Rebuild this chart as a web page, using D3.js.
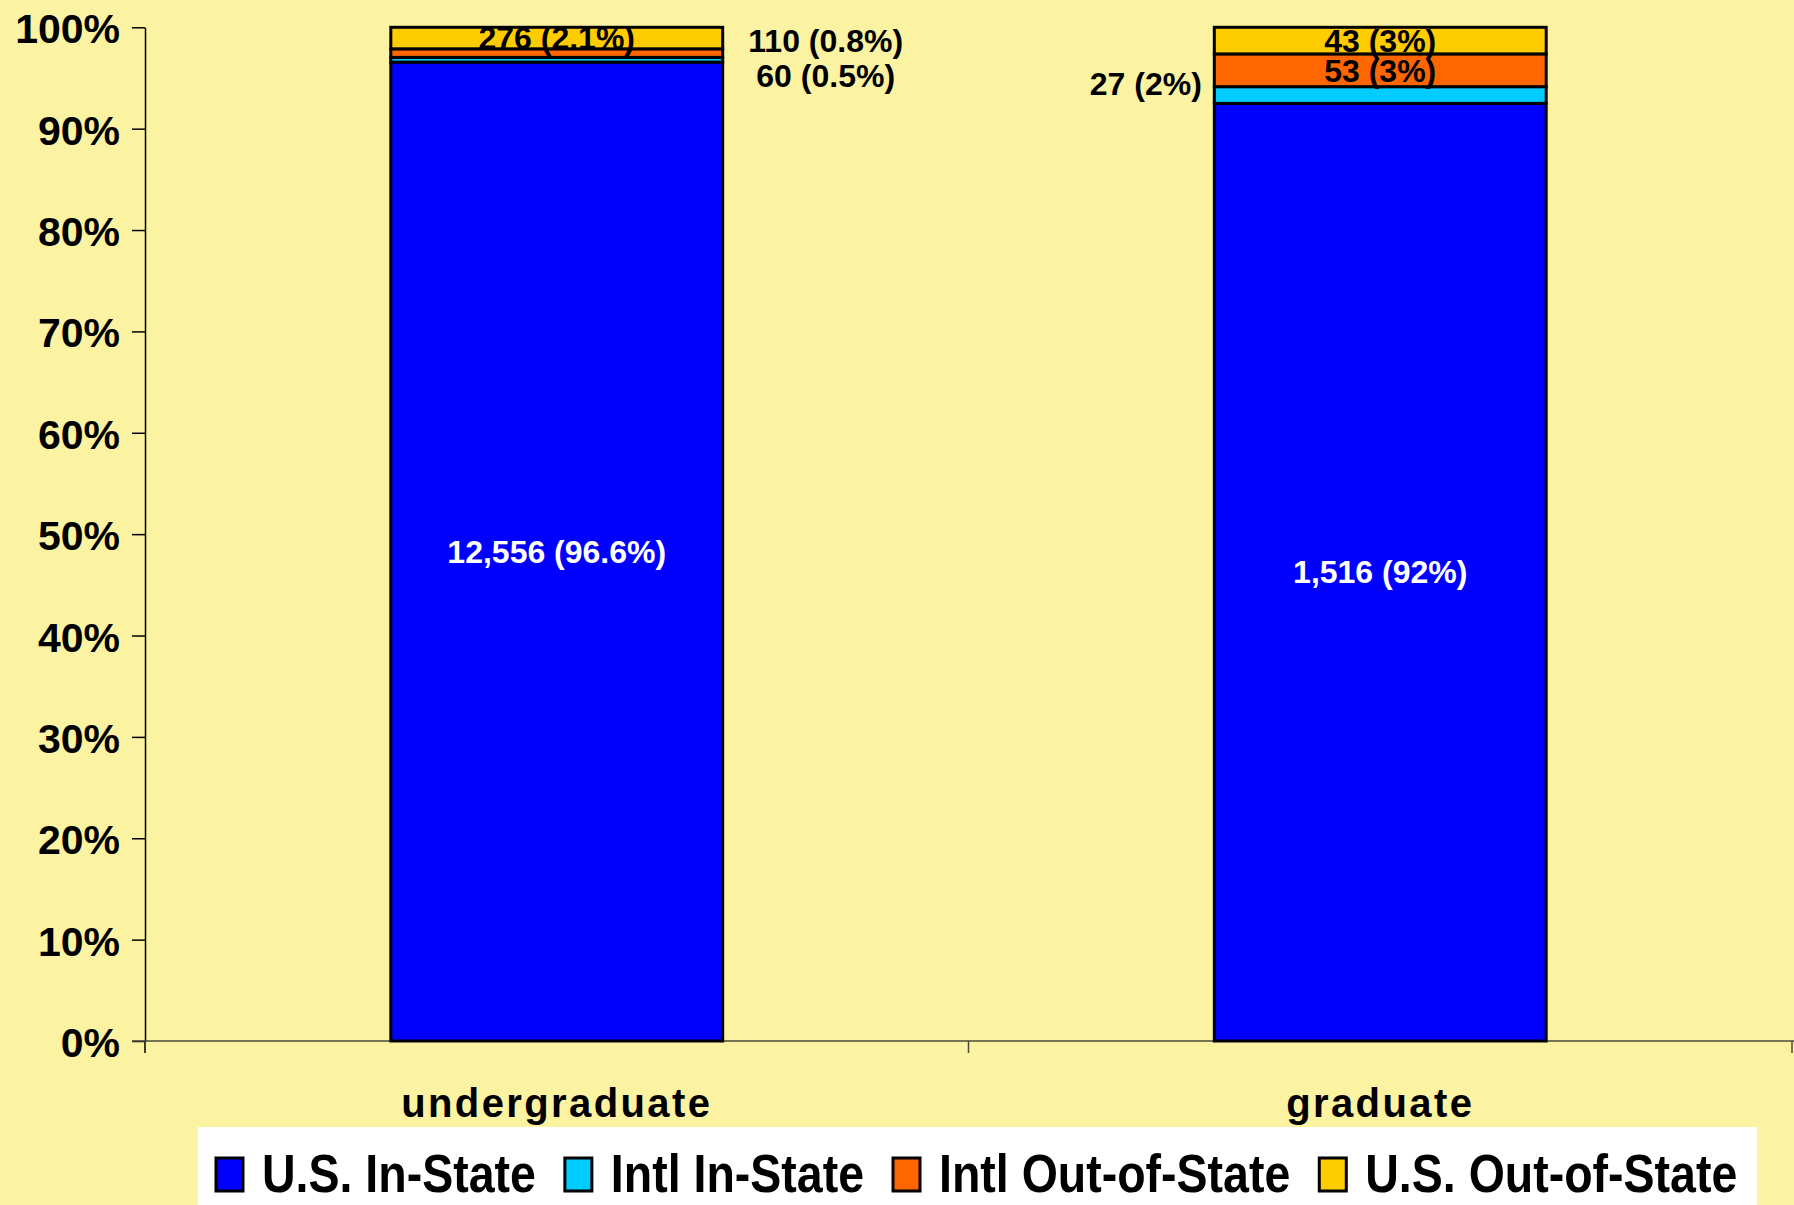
<!DOCTYPE html>
<html>
<head>
<meta charset="utf-8">
<script src="https://cdn.jsdelivr.net/npm/d3@7"></script>
<style>
  html, body { margin: 0; padding: 0; background: #fbf3a1; }
  svg { display: block; }
  text { font-family: "Liberation Sans", Arial, sans-serif; font-weight: bold; }
</style>
</head>
<body>
<div id="chart"></div>
<script>
// data
var categories = ['undergraduate', 'graduate'];
var seriesNames = ['U.S. In-State', 'Intl In-State', 'Intl Out-of-State', 'U.S. Out-of-State'];
var usInState = [12556, 1516];
var intlInState = [60, 27];
var intlOutState = [110, 53];
var usOutState = [276, 43];
// percentages as printed on the labels
var usInStatePct = ['96.6%', '92%'];
var intlInStatePct = ['0.5%', '2%'];
var intlOutStatePct = ['0.8%', '3%'];
var usOutStatePct = ['2.1%', '3%'];
var yTickValues = [0, 0.1, 0.2, 0.3, 0.4, 0.5, 0.6, 0.7, 0.8, 0.9, 1];

var colors = ['#0000ff', '#00ccff', '#ff6600', '#ffcc00'];

var width = 1794, height = 1205;
var svg = d3.select('#chart').append('svg')
    .attr('width', width)
    .attr('height', height);

svg.append('rect')
    .attr('width', width)
    .attr('height', height)
    .attr('fill', '#fbf3a1');

var counts = [usInState, intlInState, intlOutState, usOutState];
var pcts = [usInStatePct, intlInStatePct, intlOutStatePct, usOutStatePct];

var table = categories.map(function (c, i) {
    var row = { category: c };
    seriesNames.forEach(function (s, j) { row[s] = counts[j][i]; });
    return row;
});

var stack = d3.stack()
    .keys(seriesNames)
    .offset(d3.stackOffsetExpand);
var layers = stack(table);

var x = d3.scaleBand()
    .domain(categories)
    .range([145, 1792])
    .padding(0);
var y = d3.scaleLinear()
    .domain([0, 1])
    .range([1041, 27.3]);

var barW = x.bandwidth() * 0.403;
function barX(c) { return x(c) + (x.bandwidth() - barW) / 2; }

// y axis
var yAxis = d3.axisLeft(y)
    .tickValues(yTickValues)
    .tickFormat(d3.format('.0%'))
    .tickSize(13)
    .tickSizeOuter(0)
    .tickPadding(12);

var gy = svg.append('g')
    .attr('transform', 'translate(145,0)')
    .call(yAxis);
gy.select('.domain').attr('stroke', '#000').attr('stroke-width', 1.5);
gy.selectAll('.tick line').attr('stroke', '#000').attr('stroke-width', 1.5);
gy.selectAll('.tick text')
    .attr('fill', '#000')
    .attr('dy', null)
    .attr('y', 15.5)
    .style('font-size', '41px');

// y axis runs a little below the baseline
svg.append('line')
    .attr('x1', 145).attr('x2', 145)
    .attr('y1', y(0)).attr('y2', y(0) + 12)
    .attr('stroke', '#000').attr('stroke-width', 1.5);

// x axis line and category dividers
svg.append('line')
    .attr('x1', 132).attr('x2', width)
    .attr('y1', y(0)).attr('y2', y(0))
    .attr('stroke', '#4a4a3a').attr('stroke-width', 1.5);

var dividers = categories.slice(1).map(function (c) { return x(c); }).concat([x.range()[1]]);
svg.selectAll('.divider')
    .data(dividers)
    .enter()
    .append('line')
    .attr('class', 'divider')
    .attr('x1', function (d) { return d; })
    .attr('x2', function (d) { return d; })
    .attr('y1', y(0))
    .attr('y2', y(0) + 12)
    .attr('stroke', '#4a4a3a')
    .attr('stroke-width', 1.5);

// stacked bars
var gLayers = svg.append('g').selectAll('g')
    .data(layers)
    .enter()
    .append('g')
    .attr('fill', function (d, i) { return colors[i]; });

gLayers.selectAll('rect')
    .data(function (d) { return d; })
    .enter()
    .append('rect')
    .attr('x', function (d) { return barX(d.data.category); })
    .attr('width', barW)
    .attr('y', function (d) { return y(d[1]); })
    .attr('height', function (d) { return y(d[0]) - y(d[1]); })
    .attr('stroke', '#000')
    .attr('stroke-width', 3);

// label placement: inside (centered) unless moved beside the bar
var placement = {
    'undergraduate|Intl In-State': { side: 'right', dx: 103, dy: 15.7 },
    'undergraduate|Intl Out-of-State': { side: 'right', dx: 103, dy: -12.5 },
    'graduate|Intl In-State': { side: 'left', dx: -12.5, dy: -11.6 }
};

var fmt = d3.format(',');
var labels = [];
layers.forEach(function (layer, j) {
    layer.forEach(function (d, i) {
        var c = d.data.category;
        var p = placement[c + '|' + seriesNames[j]];
        var cy = (y(d[0]) + y(d[1])) / 2;
        var lab = {
            text: fmt(counts[j][i]) + ' (' + pcts[j][i] + ')',
            x: barX(c) + barW / 2,
            y: cy,
            anchor: 'middle',
            fill: j === 0 ? '#fff' : '#000'
        };
        if (p) {
            lab.y = cy + p.dy;
            if (p.side === 'right') {
                lab.x = barX(c) + barW + p.dx;
            } else {
                lab.x = barX(c) + p.dx;
                lab.anchor = 'end';
            }
        }
        labels.push(lab);
    });
});

svg.append('g').selectAll('text')
    .data(labels)
    .enter()
    .append('text')
    .attr('x', function (d) { return d.x; })
    .attr('y', function (d) { return d.y + 11.3; })
    .attr('text-anchor', function (d) { return d.anchor; })
    .attr('fill', function (d) { return d.fill; })
    .style('font-size', '32px')
    .text(function (d) { return d.text; });

// category labels
svg.append('g').selectAll('text')
    .data(categories)
    .enter()
    .append('text')
    .attr('x', function (d) { return x(d) + x.bandwidth() / 2; })
    .attr('y', 1116.7)
    .attr('text-anchor', 'middle')
    .style('font-size', '40px')
    .style('letter-spacing', '2.4px')
    .text(function (d) { return d; });

// legend
var legend = svg.append('g');
legend.append('rect')
    .attr('x', 198)
    .attr('y', 1127)
    .attr('width', 1559)
    .attr('height', height - 1127)
    .attr('fill', '#fff');

var lx = 216;
seriesNames.forEach(function (s, i) {
    legend.append('rect')
        .attr('x', lx)
        .attr('y', 1158)
        .attr('width', 27)
        .attr('height', 33)
        .attr('fill', colors[i])
        .attr('stroke', '#000')
        .attr('stroke-width', 3);
    var t = legend.append('text')
        .attr('transform', 'translate(' + (lx + 46) + ',1191.7) scale(1,1.14)')
        .style('font-size', '46.5px')
        .text(s);
    lx = lx + 46 + t.node().getComputedTextLength() + 29;
});
</script>
</body>
</html>
